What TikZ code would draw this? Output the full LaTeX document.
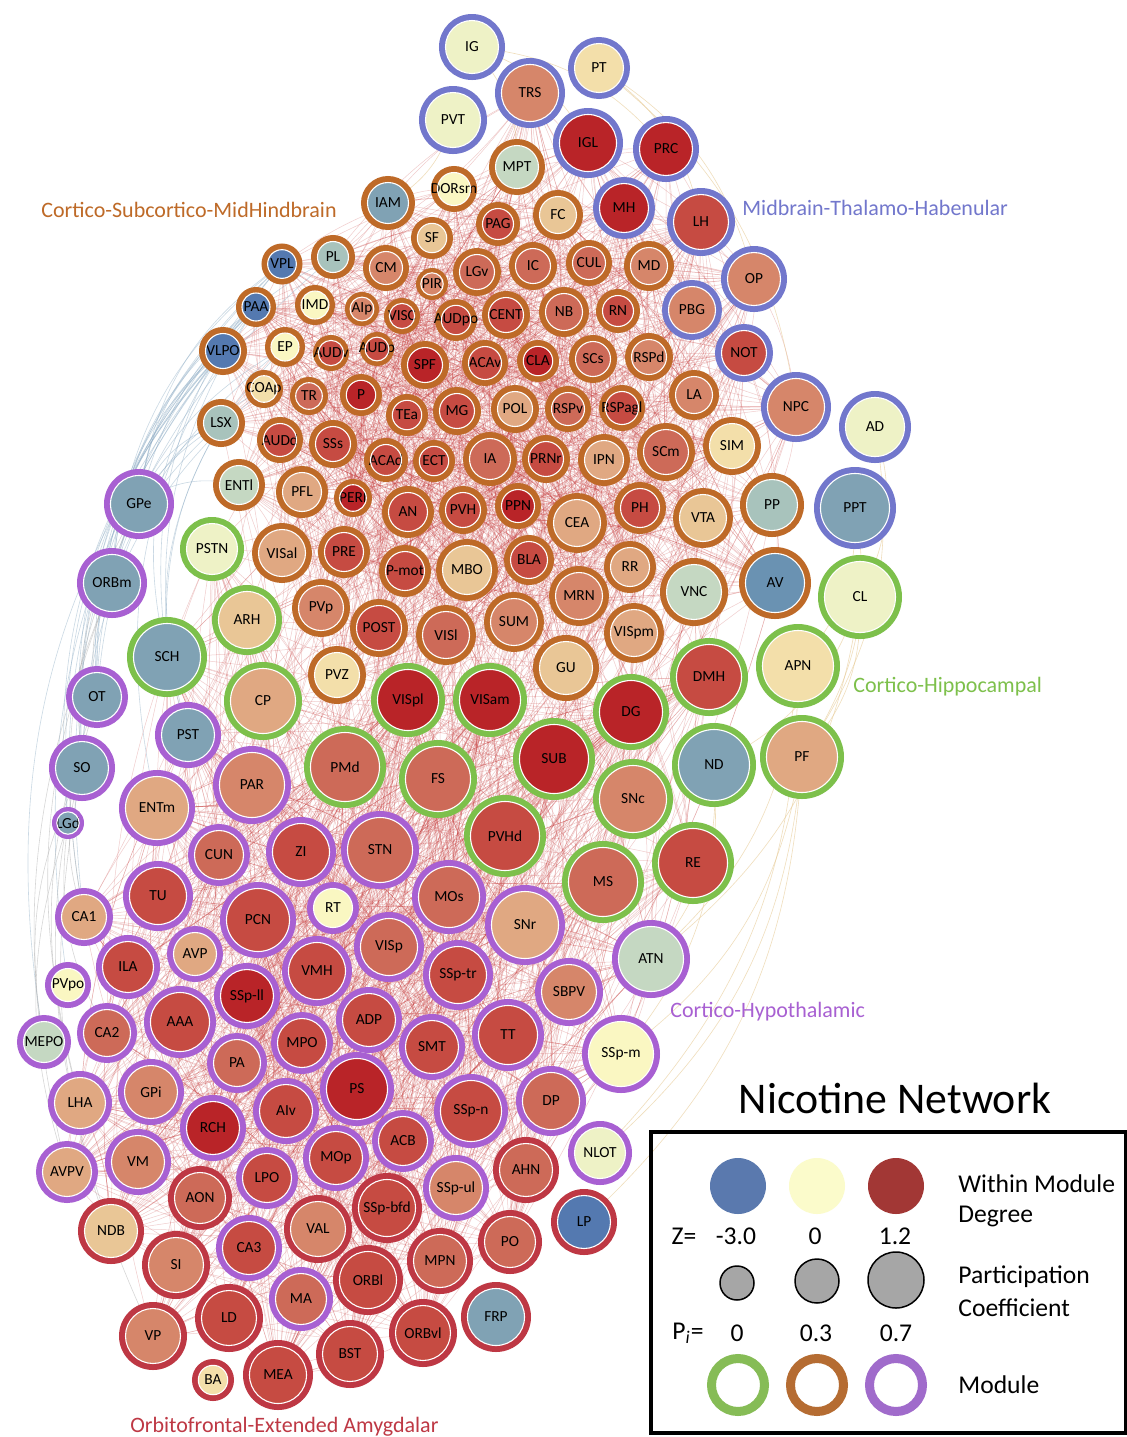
\documentclass[tikz,border=0pt]{standalone}
\usepackage{fontspec}
\setmainfont{Carlito}
\usetikzlibrary{backgrounds}
% module ring colours
\definecolor{mB}{HTML}{7277CC}
\definecolor{mO}{HTML}{BE6A28}
\definecolor{mG}{HTML}{7DC04B}
\definecolor{mP}{HTML}{A860D2}
\definecolor{mR}{HTML}{BE3844}
% fill colours (within module degree)
\definecolor{fB}{HTML}{5479B0}
\definecolor{fBb}{HTML}{6A92B2}
\definecolor{fGB}{HTML}{80A2B4}
\definecolor{fGG}{HTML}{A8C3BC}
\definecolor{fPG}{HTML}{C5D8C2}
\definecolor{fLY}{HTML}{EEF2C6}
\definecolor{fY}{HTML}{FAF7C2}
\definecolor{fT}{HTML}{F3DFAA}
\definecolor{fTt}{HTML}{E9C696}
\definecolor{fLS}{HTML}{E0A882}
\definecolor{fS}{HTML}{D6866A}
\definecolor{fSR}{HTML}{CD6A58}
\definecolor{fR}{HTML}{C64B42}
\definecolor{fDR}{HTML}{B92428}
% edges
\definecolor{edgeR}{HTML}{C83C3C}
\definecolor{edgeB}{HTML}{8BAAC4}
\definecolor{edgeT}{HTML}{E6C890}
% legend
\definecolor{lzB}{HTML}{5A79AE}
\definecolor{lzY}{HTML}{FBFBCB}
\definecolor{lzR}{HTML}{A23735}
\definecolor{lgG}{HTML}{86BC56}
\definecolor{lgO}{HTML}{B56C32}
\definecolor{lgP}{HTML}{A06BCB}
\definecolor{lgGrey}{HTML}{A6A6A6}

\tikzset{
  brnode/.style={circle, inner sep=0pt, outer sep=0pt, font=\fontsize{7.7}{8}\selectfont, text=black},
  edR/.style={draw=edgeR, line width=0.25pt, opacity=0.26},
  edB/.style={draw=edgeB, line width=0.3pt, opacity=0.45},
  edT/.style={draw=edgeT, line width=0.3pt, opacity=0.6},
  modlab/.style={font=\fontsize{11}{13}\selectfont, anchor=west, inner sep=0pt},
  lgtext/.style={font=\fontsize{12.8}{15}\selectfont, inner sep=0pt},
  lgdot/.style={circle, inner sep=0pt, draw=none},
  lggrey/.style={circle, inner sep=0pt, fill=lgGrey, draw=black, line width=0.75pt},
  lgring/.style={circle, inner sep=0pt, fill=none, line width=4.5pt, minimum size=26.5pt},
}

\newcommand\bn[7]{%
  \pgfmathsetmacro\bnRw{min(6.5,0.3*#4)}%
  \pgfmathsetmacro\bnMs{#4-\bnRw/2}%
  \pgfmathsetmacro\bnRi{(#4-\bnRw)*0.5}%
  \node[brnode, fill=#5, draw=#6, line width=\bnRw*0.5pt, minimum size=\bnMs pt] (#1) at (#2,#3) {\makebox[0pt]{#7}};
  \draw[white, line width=0.55pt] (#1.center) circle[radius=\bnRi pt];
}

\pgfmathdeclarerandomlist{U}{{IAM}{DORsm}{MPT}{FC}{PAG}{SF}{PL}{VPL}{CM}{LGv}{IC}{CUL}{MD}{PIR}{PAA}{IMD}{AIp}{VISC}{AUDpo}{CENT}{NB}{RN}{VLPO}{EP}{AUDv}{AUDp}{SPF}{ACAv}{CLA}{SCs}{RSPd}{COAp}{TR}{P}{TEa}{MG}{POL}{RSPv}{RSPagl}{LA}{LSX}{AUDd}{SSs}{ACAd}{ECT}{IA}{PRNr}{IPN}{SCm}{SIM}{ENTl}{PFL}{PERI}{AN}{PVH}{PPN}{CEA}{PH}{VTA}{PP}{VISal}{PRE}{Pmot}{MBO}{BLA}{RR}{MRN}{VNC}{AV}{PVp}{POST}{VISl}{SUM}{VISpm}{GU}{PVZ}{TRS}{IGL}{PRC}{MH}{LH}{OP}{PBG}{NOT}{NPC}}
\pgfmathdeclarerandomlist{L}{{CP}{VISpl}{VISam}{DG}{DMH}{PMd}{FS}{SUB}{SNc}{PAR}{ENTm}{CUN}{ZI}{STN}{PVHd}{RE}{MS}{TU}{CA1}{PCN}{RT}{MOs}{SNr}{ILA}{AVP}{VISp}{VMH}{SSpll}{SSptr}{SBPV}{AAA}{CA2}{ADP}{MPO}{TT}{SMT}{PA}{PS}{LHA}{GPi}{AIv}{SSpn}{DP}{RCH}{ACB}{AVPV}{VM}{LPO}{MOp}{AHN}{SSpul}{AON}{NDB}{SSpbfd}{VAL}{PO}{CA3}{SI}{MPN}{ORBl}{MA}{LD}{ORBvl}{VP}{BST}{MEA}{ATN}{SSpm}{PST}{ARH}{SCH}{VISpl}{VISam}{DG}{PSTN}}

\begin{document}
\begin{tikzpicture}[x=0.5pt, y=-0.5pt]
\useasboundingbox (0,0) rectangle (1127,1437);

% ---------- Midbrain-Thalamo-Habenular (blue ring)
\bn{IG}{472}{47}{33}{fLY}{mB}{IG}
\bn{PT}{599}{68}{31}{fT}{mB}{PT}
\bn{TRS}{530}{93}{35}{fS}{mB}{TRS}
\bn{PVT}{453}{120}{34}{fLY}{mB}{PVT}
\bn{IGL}{588}{143}{35}{fDR}{mB}{IGL}
\bn{PRC}{666}{149}{33}{fDR}{mB}{PRC}
\bn{MH}{624}{208}{31}{fDR}{mB}{MH}
\bn{LH}{701}{222}{34}{fR}{mB}{LH}
\bn{OP}{754}{279}{33}{fS}{mB}{OP}
\bn{PBG}{692}{310}{30}{fS}{mB}{PBG}
\bn{NOT}{744}{353}{29}{fR}{mB}{NOT}
\bn{NPC}{796}{407}{35}{fS}{mB}{NPC}
\bn{AD}{875}{427}{36}{fLY}{mB}{AD}
\bn{PPT}{855}{508}{41}{fGB}{mB}{PPT}

% ---------- Cortico-Subcortico-MidHindbrain (orange ring)
\bn{MPT}{517}{167}{28}{fPG}{mO}{MPT}
\bn{DORsm}{454}{189}{23}{fY}{mO}{DORsm}
\bn{IAM}{388}{203}{27}{fGB}{mO}{IAM}
\bn{FC}{558}{215}{25}{fTt}{mO}{FC}
\bn{PAG}{498}{224}{22}{fR}{mO}{PAG}
\bn{SF}{432}{238}{21}{fTt}{mO}{SF}
\bn{PL}{333}{257}{22}{fGG}{mO}{PL}
\bn{VPL}{282}{264}{20.5}{fB}{mO}{VPL}
\bn{CM}{386}{268}{23}{fS}{mO}{CM}
\bn{LGv}{477}{272}{24}{fSR}{mO}{LGv}
\bn{IC}{533}{266}{24}{fSR}{mO}{IC}
\bn{CUL}{589}{263}{23}{fSR}{mO}{CUL}
\bn{MD}{649}{266}{25}{fS}{mO}{MD}
\bn{PIR}{432}{284}{16}{fS}{mO}{PIR}
\bn{PAA}{256}{307}{20}{fB}{mO}{PAA}
\bn{IMD}{315}{305}{20}{fY}{mO}{IMD}
\bn{AIp}{362}{309}{17}{fS}{mO}{AIp}
\bn{VISC}{402}{316}{18}{fR}{mO}{VISC}
\bn{AUDpo}{456}{320}{21}{fR}{mO}{AUDpo}
\bn{CENT}{506}{315}{24}{fR}{mO}{CENT}
\bn{NB}{564}{312}{25}{fSR}{mO}{NB}
\bn{RN}{618}{311}{22}{fR}{mO}{RN}
\bn{VLPO}{223}{351}{24}{fB}{mO}{VLPO}
\bn{EP}{285}{347}{20}{fY}{mO}{EP}
\bn{AUDv}{331}{353}{18}{fR}{mO}{AUDv}
\bn{AUDp}{377}{349}{17}{fR}{mO}{AUDp}
\bn{SPF}{425}{365}{24}{fDR}{mO}{SPF}
\bn{ACAv}{485}{363}{23}{fR}{mO}{ACAv}
\bn{CLA}{538}{361}{21}{fDR}{mO}{CLA}
\bn{SCs}{593}{359}{24}{fSR}{mO}{SCs}
\bn{RSPd}{649}{357}{24}{fS}{mO}{RSPd}
\bn{COAp}{264}{389}{19}{fT}{mO}{COAp}
\bn{TR}{309}{396}{19}{fSR}{mO}{TR}
\bn{P}{361}{395}{21}{fDR}{mO}{P}
\bn{TEa}{407}{415}{21}{fR}{mO}{TEa}
\bn{MG}{457}{411}{24}{fR}{mO}{MG}
\bn{POL}{515}{409}{24}{fLS}{mO}{POL}
\bn{RSPv}{568}{409}{23}{fSR}{mO}{RSPv}
\bn{RSPagl}{622}{408}{23}{fR}{mO}{RSPagl}
\bn{LA}{694}{395}{25}{fS}{mO}{LA}
\bn{LSX}{221}{423}{24}{fGG}{mO}{LSX}
\bn{AUDd}{280}{440}{23}{fR}{mO}{AUDd}
\bn{SSs}{333}{444}{24}{fR}{mO}{SSs}
\bn{ACAd}{386}{460}{22}{fR}{mO}{ACAd}
\bn{ECT}{434}{461}{21}{fR}{mO}{ECT}
\bn{IA}{490}{459}{27}{fSR}{mO}{IA}
\bn{PRNr}{546}{459}{24}{fR}{mO}{PRNr}
\bn{IPN}{604}{460}{26}{fLS}{mO}{IPN}
\bn{SCm}{666}{452}{29}{fSR}{mO}{SCm}
\bn{SIM}{732}{446}{29}{fT}{mO}{SIM}
\bn{ENTl}{239}{485}{26}{fPG}{mO}{ENTl}
\bn{PFL}{302}{492}{26}{fLS}{mO}{PFL}
\bn{PERI}{353}{498}{19}{fDR}{mO}{PERI}
\bn{AN}{408}{512}{26}{fR}{mO}{AN}
\bn{PVH}{463}{510}{24}{fR}{mO}{PVH}
\bn{PPN}{518}{506}{23}{fDR}{mO}{PPN}
\bn{CEA}{577}{523}{30}{fLS}{mO}{CEA}
\bn{PH}{640}{508}{26}{fR}{mO}{PH}
\bn{VTA}{703}{518}{30}{fTt}{mO}{VTA}
\bn{PP}{772}{505}{32}{fGG}{mO}{PP}
\bn{VISal}{282}{553}{30}{fLS}{mO}{VISal}
\bn{PRE}{344}{552}{26}{fR}{mO}{PRE}
\bn{Pmot}{405}{571}{26}{fR}{mO}{P-mot}
\bn{MBO}{467}{570}{31}{fTt}{mO}{MBO}
\bn{BLA}{529}{560}{25}{fR}{mO}{BLA}
\bn{RR}{630}{567}{26}{fLS}{mO}{RR}
\bn{MRN}{579}{596}{30}{fS}{mO}{MRN}
\bn{VNC}{694}{592}{34}{fPG}{mO}{VNC}
\bn{AV}{775}{583}{36}{fBb}{mO}{AV}
\bn{PVp}{321}{608}{29}{fS}{mO}{PVp}
\bn{POST}{379}{628}{29}{fR}{mO}{POST}
\bn{VISl}{446}{635}{30}{fSR}{mO}{VISl}
\bn{SUM}{514}{622}{30}{fS}{mO}{SUM}
\bn{VISpm}{634}{633}{30}{fLS}{mO}{VISpm}
\bn{GU}{566}{668}{33}{fTt}{mO}{GU}
\bn{PVZ}{337}{675}{29}{fT}{mO}{PVZ}

% ---------- Cortico-Hippocampal (green ring)
\bn{PSTN}{212}{549}{32}{fLY}{mG}{PSTN}
\bn{CL}{860}{597}{42}{fLY}{mG}{CL}
\bn{ARH}{247}{620}{35}{fTt}{mG}{ARH}
\bn{SCH}{167}{657}{40}{fGB}{mG}{SCH}
\bn{APN}{798}{666}{42}{fT}{mG}{APN}
\bn{DMH}{709}{677}{39}{fR}{mG}{DMH}
\bn{CP}{263}{701}{39}{fLS}{mG}{CP}
\bn{VISpl}{408}{700}{37}{fDR}{mG}{VISpl}
\bn{VISam}{490}{700}{37}{fDR}{mG}{VISam}
\bn{DG}{631}{712}{38}{fDR}{mG}{DG}
\bn{PMd}{345}{767}{41}{fSR}{mG}{PMd}
\bn{FS}{438}{779}{39}{fSR}{mG}{FS}
\bn{SUB}{554}{759}{41}{fDR}{mG}{SUB}
\bn{ND}{714}{765}{42}{fGB}{mG}{ND}
\bn{PF}{802}{757}{42}{fLS}{mG}{PF}
\bn{SNc}{633}{799}{40}{fS}{mG}{SNc}
\bn{PVHd}{505}{836}{41}{fR}{mG}{PVHd}
\bn{RE}{693}{863}{41}{fR}{mG}{RE}
\bn{MS}{603}{882}{41}{fSR}{mG}{MS}

% ---------- Cortico-Hypothalamic (purple ring)
\bn{GPe}{139}{504}{35}{fGB}{mP}{GPe}
\bn{ORBm}{112}{583}{35}{fGB}{mP}{ORBm}
\bn{OT}{97}{697}{31}{fGB}{mP}{OT}
\bn{PST}{188}{735}{33}{fGB}{mP}{PST}
\bn{SO}{82}{768}{33}{fGB}{mP}{SO}
\bn{PAR}{252}{785}{39}{fS}{mP}{PAR}
\bn{ENTm}{157}{808}{38}{fLS}{mP}{ENTm}
\bn{LGd}{68}{823}{16}{fGB}{mP}{LGd}
\bn{CUN}{219}{855}{31}{fSR}{mP}{CUN}
\bn{ZI}{301}{852}{35}{fR}{mP}{ZI}
\bn{STN}{380}{850}{39}{fSR}{mP}{STN}
\bn{TU}{158}{896}{35}{fR}{mP}{TU}
\bn{CA1}{84}{917}{29}{fLS}{mP}{CA1}
\bn{PCN}{258}{920}{38}{fR}{mP}{PCN}
\bn{RT}{333}{908}{26}{fY}{mP}{RT}
\bn{MOs}{449}{897}{37}{fSR}{mP}{MOs}
\bn{SNr}{525}{925}{40}{fLS}{mP}{SNr}
\bn{ATN}{651}{959}{39}{fPG}{mP}{ATN}
\bn{ILA}{128}{967}{32}{fR}{mP}{ILA}
\bn{AVP}{195}{954}{28}{fLS}{mP}{AVP}
\bn{VISp}{389}{947}{35}{fSR}{mP}{VISp}
\bn{VMH}{317}{971}{35}{fR}{mP}{VMH}
\bn{SSpll}{247}{996}{33}{fDR}{mP}{SSp-ll}
\bn{SSptr}{458}{975}{35}{fR}{mP}{SSp-tr}
\bn{SBPV}{569}{992}{34}{fS}{mP}{SBPV}
\bn{PVpo}{68}{985}{23}{fY}{mP}{PVpo}
\bn{AAA}{180}{1022}{36}{fR}{mP}{AAA}
\bn{CA2}{107}{1033}{30}{fSR}{mP}{CA2}
\bn{MEPO}{44}{1042}{27}{fPG}{mP}{MEPO}
\bn{ADP}{369}{1020}{33}{fR}{mP}{ADP}
\bn{MPO}{302}{1043}{31}{fR}{mP}{MPO}
\bn{TT}{508}{1035}{36}{fR}{mP}{TT}
\bn{SMT}{432}{1047}{33}{fR}{mP}{SMT}
\bn{SSpm}{621}{1054}{39}{fY}{mP}{SSp-m}
\bn{PA}{237}{1063}{30}{fSR}{mP}{PA}
\bn{PS}{357}{1089}{37}{fDR}{mP}{PS}
\bn{LHA}{80}{1103}{32}{fLS}{mP}{LHA}
\bn{GPi}{151}{1092}{33}{fS}{mP}{GPi}
\bn{AIv}{286}{1111}{33}{fR}{mP}{AIv}
\bn{SSpn}{471}{1111}{37}{fR}{mP}{SSp-n}
\bn{DP}{551}{1101}{35}{fSR}{mP}{DP}
\bn{RCH}{213}{1128}{33}{fDR}{mP}{RCH}
\bn{ACB}{403}{1141}{31}{fR}{mP}{ACB}
\bn{NLOT}{600}{1153}{32}{fLY}{mP}{NLOT}
\bn{AVPV}{67}{1172}{31}{fLS}{mP}{AVPV}
\bn{VM}{138}{1162}{33}{fS}{mP}{VM}
\bn{LPO}{267}{1178}{31}{fR}{mP}{LPO}
\bn{MOp}{336}{1158}{33}{fR}{mP}{MOp}
\bn{SSpul}{456}{1188}{33}{fS}{mP}{SSp-ul}
\bn{CA3}{249}{1248}{33}{fR}{mP}{CA3}
\bn{MA}{301}{1299}{32}{fSR}{mP}{MA}

% ---------- Orbitofrontal-Extended Amygdalar (red ring)
\bn{AHN}{526}{1170}{33}{fSR}{mR}{AHN}
\bn{AON}{200}{1198}{32}{fSR}{mR}{AON}
\bn{LP}{584}{1222}{33}{fB}{mR}{LP}
\bn{NDB}{111}{1231}{33}{fTt}{mR}{NDB}
\bn{SSpbfd}{387}{1208}{35}{fR}{mR}{SSp-bfd}
\bn{VAL}{318}{1229}{34}{fS}{mR}{VAL}
\bn{PO}{510}{1242}{32}{fSR}{mR}{PO}
\bn{SI}{176}{1265}{34}{fS}{mR}{SI}
\bn{MPN}{440}{1261}{33}{fSR}{mR}{MPN}
\bn{ORBl}{368}{1280}{35}{fR}{mR}{ORBl}
\bn{FRP}{496}{1317}{35}{fGB}{mR}{FRP}
\bn{LD}{229}{1318}{34}{fR}{mR}{LD}
\bn{ORBvl}{423}{1333}{34}{fR}{mR}{ORBvl}
\bn{VP}{153}{1336}{34}{fS}{mR}{VP}
\bn{BST}{350}{1354}{34}{fR}{mR}{BST}
\bn{BA}{213}{1380}{21}{fT}{mR}{BA}
\bn{MEA}{278}{1375}{35}{fR}{mR}{MEA}

% ---------- edges (behind the nodes)
\begin{pgfonlayer}{background}
\fill[white] (0,0) rectangle (1127,1437);
\pgfmathsetseed{7}
\foreach \k in {1,...,1300}{%
  \pgfmathrandomitem{\ea}{U}\pgfmathrandomitem{\eb}{U}%
  \ifx\ea\eb\else\draw[edR] (\ea.center) to[bend left=12] (\eb.center);\fi}
\foreach \k in {1,...,1100}{%
  \pgfmathrandomitem{\ea}{L}\pgfmathrandomitem{\eb}{L}%
  \ifx\ea\eb\else\draw[edR] (\ea.center) to[bend left=12] (\eb.center);\fi}
\foreach \k in {1,...,350}{%
  \pgfmathrandomitem{\ea}{U}\pgfmathrandomitem{\eb}{L}%
  \draw[edR] (\ea.center) to[bend left=12] (\eb.center);}
% left periphery, blue-grey arcs
\foreach \a/\b in {GPe/VPL,GPe/PAA,GPe/VLPO,GPe/LSX,GPe/PL,ORBm/VPL,ORBm/PAA,ORBm/VLPO,ORBm/EP,ORBm/COAp,OT/VPL,OT/PAA,OT/VLPO,OT/LSX,SO/VPL,SO/PAA,SO/VLPO,SO/PL,LGd/PAA,LGd/VLPO,SCH/VPL,SCH/VLPO,SCH/EP,PST/PAA,PST/LSX,CA1/VLPO,CA1/VPL,ENTm/PAA,MEPO/VLPO,PVpo/PAA,GPe/ENTl,ORBm/LSX,OT/EP,SO/COAp}{%
  \draw[edB] (\a.center) to[bend left=24] (\b.center);}
\foreach \a/\b in {SO/CA1,LGd/AVPV,OT/LHA,SO/MEPO,ORBm/LHA,GPe/CA1,OT/NDB,SO/VP,LGd/CA2,ORBm/AVPV,GPe/SO,ORBm/OT}{%
  \draw[edB, draw=lgGrey] (\a.center) to[bend right=18] (\b.center);}
% right periphery, pale arcs
\foreach \a/\b in {PF/SSpm,PF/NLOT,ND/ATN,APN/ATN,CL/PF,AD/CL,PPT/APN,CL/ND,PF/LP,ND/SSpm,AD/PF,PPT/PF,CL/ATN,APN/NLOT,IG/PRC,PT/LH,IG/IGL,PT/OP,PVT/IAM,IG/MPT,PT/NPC}{%
  \draw[edT] (\a.center) to[bend left=22] (\b.center);}
\end{pgfonlayer}

% ---------- module labels
\node[modlab, text=mO] (labCS) at (41,210) {Cortico-Subcortico-MidHindbrain};
\node[modlab, text=mB] (labMT) at (742,208) {Midbrain-Thalamo-Habenular};
\node[modlab, text=mG] (labCH) at (853,687) {Cortico-Hippocampal};
\node[modlab, text=mP] (labCHy) at (670,1012) {Cortico-Hypothalamic};
\node[modlab, text=mR] (labOE) at (130,1427) {Orbitofrontal-Extended Amygdalar};

% ---------- legend
\node[font=\fontsize{21.9}{26}\selectfont, inner sep=0pt] (title) at (895,1098) {Nicotine Network};
\draw[line width=1.6pt] (651,1132) rectangle (1126,1433);
\node[lgdot, fill=lzB, minimum width=28pt, minimum height=26.5pt] (lzA) at (738,1186) {};
\node[lgdot, fill=lzY, minimum width=28pt, minimum height=26.5pt] (lzBb) at (817,1186) {};
\node[lgdot, fill=lzR, minimum width=28pt, minimum height=26.5pt] (lzC) at (896,1186) {};
\node[lgtext, anchor=west] (lgW1) at (958,1184) {Within Module};
\node[lgtext, anchor=west] (lgW2) at (958,1216) {Degree};
\node[lgtext] (lgZ) at (684,1236) {Z=};
\node[lgtext] (lgZ1) at (736,1236) {-3.0};
\node[lgtext] (lgZ2) at (815,1236) {0};
\node[lgtext] (lgZ3) at (895,1236) {1.2};
\node[lggrey, minimum size=17pt] (lgP1) at (737,1283) {};
\node[lggrey, minimum width=22pt, minimum height=20.5pt] (lgP2) at (817,1281) {};
\node[lggrey, minimum width=28pt, minimum height=27pt] (lgP3) at (896,1280) {};
\node[lgtext, anchor=west] (lgC1) at (958,1277) {Participation};
\node[lgtext, anchor=west] (lgC2) at (958,1308) {Coefficient};
\node[lgtext] (lgPi) at (688,1333) {P\textsubscript{\textit{i}}=};
\node[lgtext] (lgPa) at (737,1333) {0};
\node[lgtext] (lgPb) at (816,1333) {0.3};
\node[lgtext] (lgPc) at (896,1333) {0.7};
\node[lgring, draw=lgG] (lgM1) at (738,1385) {};
\node[lgring, draw=lgO] (lgM2) at (817,1385) {};
\node[lgring, draw=lgP] (lgM3) at (896,1385) {};
\node[lgtext, anchor=west] (lgMod) at (958,1385) {Module};
\end{tikzpicture}
\end{document}
